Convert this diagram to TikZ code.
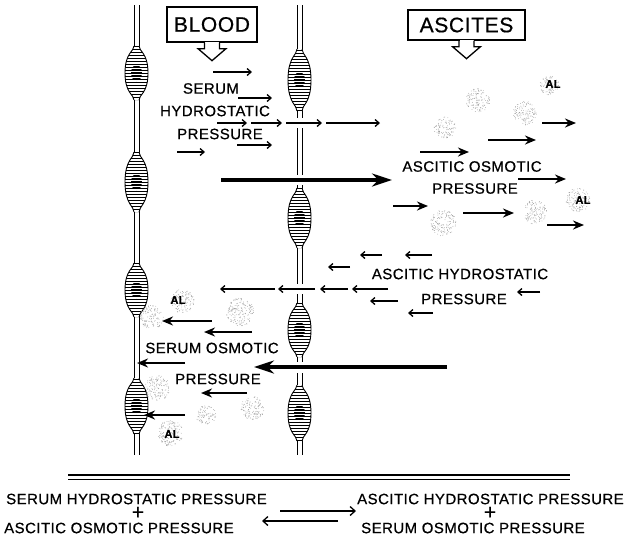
\documentclass[tikz,border=0pt]{standalone}
\usepackage{fontspec}
\setmainfont{Liberation Sans}[LetterSpace=3,FakeBold=0.6]
\usetikzlibrary{arrows.meta}

\newcommand{\lblfont}{\fontsize{15}{17}\selectfont}
\newcommand{\boxfont}{\fontsize{21}{23}\selectfont}

% spindle cell in a capillary wall: x, y, half length
\newcommand{\spindle}[3]{%
  \begin{scope}
    \clip (#1-2.5,#2-#3) .. controls (#1-2.5,#2-0.8*#3) and (#1-11.5,#2-0.75*#3) .. (#1-11.5,#2)
      .. controls (#1-11.5,#2+0.75*#3) and (#1-2.5,#2+0.8*#3) .. (#1-2.5,#2+#3)
      -- (#1+2.5,#2+#3) .. controls (#1+2.5,#2+0.8*#3) and (#1+11.5,#2+0.75*#3) .. (#1+11.5,#2)
      .. controls (#1+11.5,#2-0.75*#3) and (#1+2.5,#2-0.8*#3) .. (#1+2.5,#2-#3) -- cycle;
    \fill[white] (#1-13,#2-#3) rectangle (#1+13,#2+#3);
    \foreach \k in {-10,...,10}
      \draw[hatch] ({#1-13},{#2+\k*3}) -- ++(26,0);
    % nucleus
    \clip (#1,#2) ellipse [x radius=5.5pt, y radius=8pt];
    \foreach \k in {-3,...,3}
      \draw[hatch, line width=2.2pt] ({#1-13},{#2+\k*3}) -- ++(26,0);
  \end{scope}
  \draw[wall] (#1-2.5,#2-#3) .. controls (#1-2.5,#2-0.8*#3) and (#1-11.5,#2-0.75*#3) .. (#1-11.5,#2)
      .. controls (#1-11.5,#2+0.75*#3) and (#1-2.5,#2+0.8*#3) .. (#1-2.5,#2+#3);
  \draw[wall] (#1+2.5,#2-#3) .. controls (#1+2.5,#2-0.8*#3) and (#1+11.5,#2-0.75*#3) .. (#1+11.5,#2)
      .. controls (#1+11.5,#2+0.75*#3) and (#1+2.5,#2+0.8*#3) .. (#1+2.5,#2+#3);
}

% stippled albumin particle: x, y, radius
\newcommand{\albumin}[3]{%
  \pgfmathtruncatemacro{\ndots}{0.9*#3*#3}
  \foreach \n in {1,...,\ndots} {
    \pgfmathsetmacro{\drad}{#3*sqrt(rnd)}
    \pgfmathsetmacro{\dang}{360*rnd}
    \fill[dot] (#1,#2) ++(\dang:\drad) circle[radius=0.4pt];
  }
}

\begin{document}
\begin{tikzpicture}[x=1pt,y=-1pt,
  wall/.style={line width=0.9pt},
  hatch/.style={line width=0.55pt},
  dot/.style={fill=black!40},
  lbl/.style={font=\lblfont, inner sep=0pt},
  plus/.style={font=\fontsize{21}{21}\selectfont, inner sep=0pt},
  al/.style={font=\fontsize{11}{12}\selectfont\bfseries, inner sep=0pt},
  tag/.style={draw, line width=1.3pt, font=\boxfont, inner sep=0pt},
  callout/.style={line width=1.3pt, line join=miter},
  thin/.style={line width=1.3pt, -{Straight Barb[length=4pt,width=7pt]}},
  mid/.style={line width=2.6pt, -{Stealth[length=11pt,width=9pt]}},
  heavy/.style={line width=3.2pt, -{Stealth[length=20pt,width=13pt]}},
  eq/.style={line width=1.3pt, -{Straight Barb[length=5pt,width=9pt]}}]
\useasboundingbox (0,0) rectangle (636,547);
\pgfmathsetseed{11}

% capillary walls
\foreach \x in {134.5,139.5}
  \draw[wall] (\x,5) -- (\x,455);
\foreach \x in {297,302}
  \draw[wall] (\x,5) -- (\x,118) (\x,128) -- (\x,175) (\x,185) -- (\x,284)
    (\x,294) -- (\x,362) (\x,373) -- (\x,455);
\foreach \y/\h in {73/27,182/30,290/27,406/28} {\spindle{136.5}{\y}{\h}}
\foreach \y/\h in {80/31,218/30,330/27,413/28} {\spindle{299.5}{\y}{\h}}

% headings
\node[tag, minimum width=90pt, minimum height=35pt] (blood) at (212,24.5) {BLOOD};
\node[tag, minimum width=117pt, minimum height=30pt] (ascites) at (466.5,25) {ASCITES};
\foreach \t in {blood,ascites} {
  \fill[white] ([xshift=-7pt,yshift=1pt]\t.south) rectangle ([xshift=7pt,yshift=-2pt]\t.south);
  \draw[callout] ([xshift=-7.5pt]\t.south) -- ++(0,6) -- ++(-6.5,0) -- ++(14,12)
    -- ++(14,-12) -- ++(-6.5,0) -- ++(0,-6);
}

% albumin
\foreach \cx/\cy/\r in {549/85/10,478/100/12,525/113/12,445/128/11,578/200/12,
    535/212/12,443/223/13,182/301/12,152/317/12,240/312/14,157/388/13,
    206/415/10,253/408/12,170/433/13}
  {\albumin{\cx}{\cy}{\r}}
\node[al] (al1) at (553,84) {AL};
\node[al] (al2) at (583,200) {AL};
\node[al] (al3) at (178,300) {AL};
\node[al] (al4) at (172,434) {AL};

% serum hydrostatic pressure, blood to ascites
\node[lbl] (serum) at (211,88.5) {SERUM};
\node[lbl] (hydro) at (215,111) {HYDROSTATIC};
\node[lbl] (press1) at (220,134) {PRESSURE};
\foreach \a/\b/\y in {213/252/72,238/272/98,217/247/123,251/282/123,286/322/123,
    326/380/123,237/272/145,177/205/152}
  \draw[thin] (\a,\y) -- (\b,\y);

% ascitic osmotic pressure
\node[lbl] (ascosm) at (472,166.5) {ASCITIC OSMOTIC};
\node[lbl] (press2) at (475,188.5) {PRESSURE};
\draw[heavy] (221,180) -- (392,180);
\foreach \a/\b/\y in {542/576/123,488/536/140,420/469/152,518/566/179,
    393/428/206,463/514/213,547/584/225}
  \draw[mid] (\a,\y) -- (\b,\y);

% ascitic hydrostatic pressure, back into the vessel
\node[lbl] (aschyd) at (460,274) {ASCITIC HYDROSTATIC};
\node[lbl] (press3) at (464,299) {PRESSURE};
\foreach \a/\b/\y in {382/360/255,432/405/255,350/328/267,275/220/289,315/278/289,
    348/320/289,388/352/289,398/370/301,433/408/313,540/517/292}
  \draw[thin] (\a,\y) -- (\b,\y);

% serum osmotic pressure
\node[lbl] (serosm) at (212,348) {SERUM OSMOTIC};
\node[lbl] (press4) at (218,379) {PRESSURE};
\draw[heavy, line width=3.6pt] (447,367) -- (254,367);
\foreach \a/\b/\y in {212/162/321,252/204/332,185/137/363,247/201/393,185/144/415}
  \draw[mid] (\a,\y) -- (\b,\y);

% balance of the four pressures
\draw[line width=1.1pt] (68,475) -- (570,475) (68,479.5) -- (570,479.5);
\node[lbl, anchor=west] (lhs1) at (6,499) {SERUM HYDROSTATIC PRESSURE};
\node[plus] (plus1) at (138,513) {+};
\node[lbl, anchor=west] (lhs2) at (4,528) {ASCITIC OSMOTIC PRESSURE};
\node[lbl, anchor=west] (rhs1) at (357,499) {ASCITIC HYDROSTATIC PRESSURE};
\node[plus] (plus2) at (490,513) {+};
\node[lbl, anchor=west] (rhs2) at (361,528) {SERUM OSMOTIC PRESSURE};
\coordinate (fwdA) at (280,511);
\coordinate (fwdB) at (356,511);
\coordinate (bwdA) at (338,521);
\coordinate (bwdB) at (262,521);
\draw[eq] (fwdA) -- (fwdB);
\draw[eq] (bwdA) -- (bwdB);
\end{tikzpicture}
\end{document}
